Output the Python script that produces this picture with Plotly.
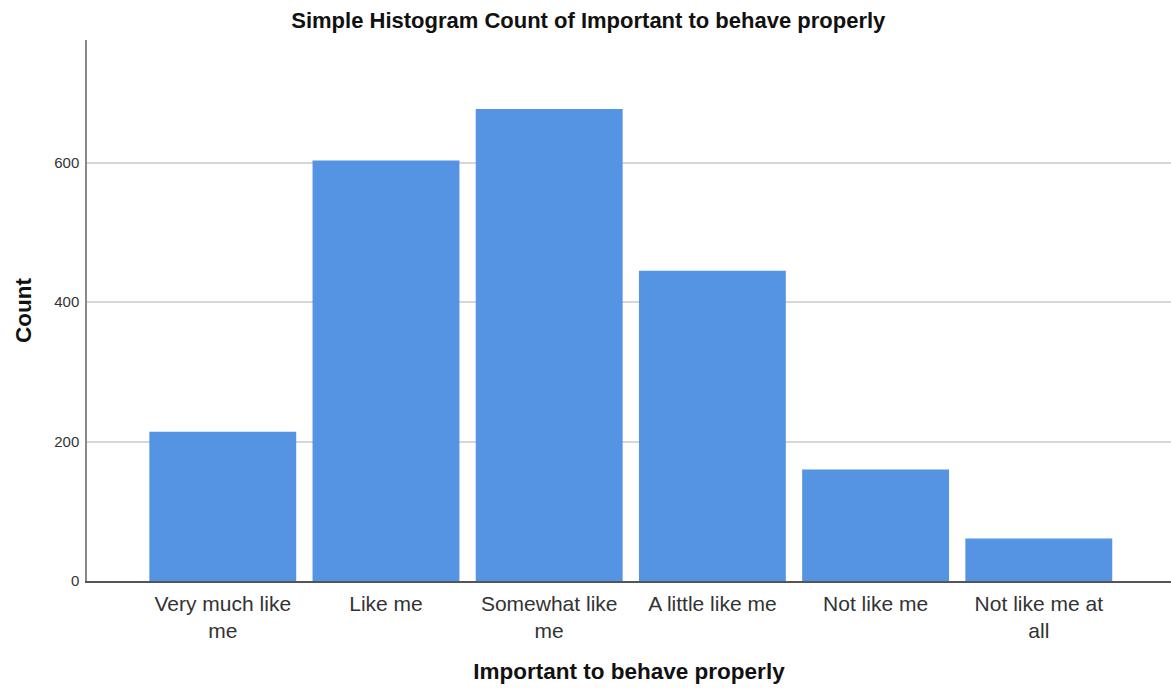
import plotly.graph_objects as go

categories = ["Very much like<br>me", "Like me", "Somewhat like<br>me",
              "A little like me", "Not like me", "Not like me at<br>all"]
counts = [214, 603, 677, 445, 160, 61]
y_ticks = [0, 200, 400, 600]

FONT = "Arial, Liberation Sans, sans-serif"

fig = go.Figure(go.Bar(
    x=list(range(len(categories))),
    y=counts,
    width=0.9,
    marker=dict(color="#5594E2", line=dict(width=0)),
))

fig.update_layout(
    width=1171, height=688,
    margin=dict(l=87, r=0, t=40, b=107),
    paper_bgcolor="white", plot_bgcolor="white",
    showlegend=False,
    title=dict(text="<b>Simple Histogram Count of Important to behave properly</b>",
               x=0.5024, xanchor="center", y=0.970, yanchor="middle",
               font=dict(family=FONT, size=22, color="#111")),
    font=dict(family=FONT),
)

fig.update_xaxes(
    tickmode="array", tickvals=list(range(len(categories))), ticktext=categories,
    range=[-0.832, 5.81],
    showgrid=False, zeroline=False,
    showline=True, linecolor="#555", linewidth=1.5,
    ticks="", ticklabelstandoff=3,
    tickfont=dict(family=FONT, size=21, color="#333"),
    title=dict(text="<b>Important to behave properly</b>", standoff=22,
               font=dict(family=FONT, size=22.5, color="#111")),
)

fig.update_yaxes(
    tickmode="array", tickvals=y_ticks,
    range=[0, 776],
    showgrid=True, gridcolor="#d6d6d6", gridwidth=1.5,
    zeroline=False,
    showline=True, linecolor="#888", linewidth=1.5,
    ticks="", ticklabelstandoff=3,
    tickfont=dict(family=FONT, size=15, color="#333"),
    title=dict(text="<b>Count</b>", standoff=16,
               font=dict(family=FONT, size=22.5, color="#111")),
)

fig.write_html("out.html", config={"displayModeBar": False},
               post_script="document.body.style.margin='0';document.body.style.padding='0';")
